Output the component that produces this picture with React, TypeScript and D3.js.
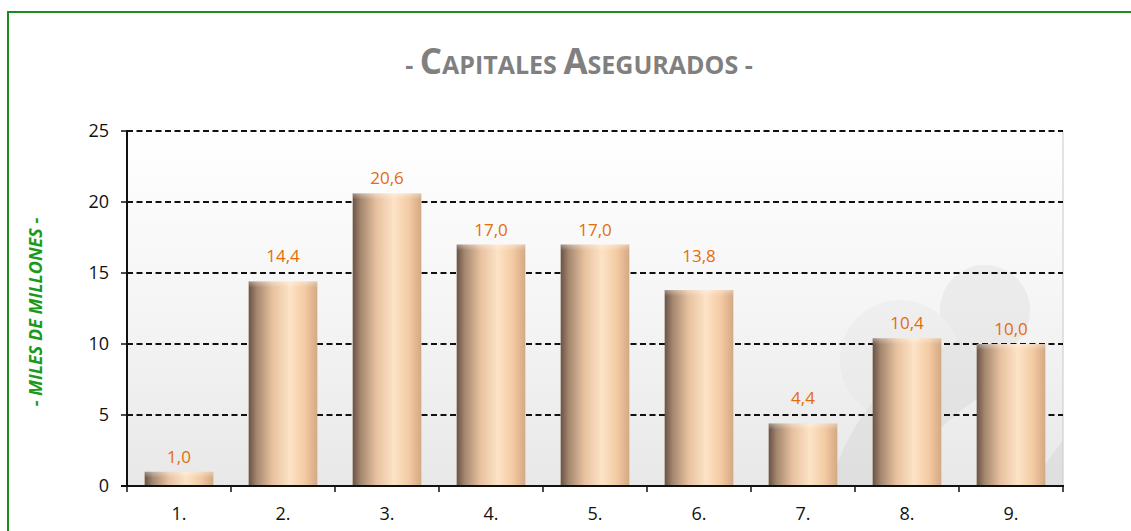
import React from "react";
import * as d3 from "d3";

const categories = ["1.", "2.", "3.", "4.", "5.", "6.", "7.", "8.", "9."];
const values = [1.0, 14.4, 20.6, 17.0, 17.0, 13.8, 4.4, 10.4, 10.0];
const yTicks = [0, 5, 10, 15, 20, 25];
const titleParts = [
  { t: "- ", big: false },
  { t: "C", big: true },
  { t: "APITALES ", big: false },
  { t: "A", big: true },
  { t: "SEGURADOS", big: false },
  { t: " -", big: false },
];
const yLabel = "- MILES DE MILLONES -";

const W = 1131;
const H = 531;
const left = 127;
const right = 1063;
const top = 131;
const bottom = 486;

export default function App() {
  const x = d3.scaleBand<string>().domain(categories).range([left, right]).paddingInner(0.34).paddingOuter(0.17);
  const xb = d3.scaleBand<string>().domain(categories).range([left, right]);
  const y = d3.scaleLinear().domain([0, 25]).range([bottom, top]);
  const font = "'Open Sans', 'Noto Sans', sans-serif";
  const fmt = (v: number) => v.toFixed(1).replace(".", ",");
  const gridYs = yTicks.filter((t) => t > 0).map((t) => y(t));
  const labelY = (v: number) => {
    let c = y(v) - 15;
    for (const g of gridYs) {
      if (Math.abs(c - g) < 10) c = g - 17;
    }
    return c;
  };

  return (
    <svg width={W} height={H} style={{ position: "absolute", left: 0, top: 0, background: "#fff" }}>
      <defs>
        <linearGradient id="bg" x1="0" y1="0" x2="0" y2="1">
          <stop offset="0" stopColor="#ffffff" />
          <stop offset="0.45" stopColor="#f6f6f6" />
          <stop offset="1" stopColor="#e8e8e8" />
        </linearGradient>
        <linearGradient id="bar" x1="0" y1="0" x2="1" y2="0">
          <stop offset="0" stopColor="#6a5244" />
          <stop offset="0.12" stopColor="#a58870" />
          <stop offset="0.35" stopColor="#e8c2a0" />
          <stop offset="0.6" stopColor="#fde3c6" />
          <stop offset="0.82" stopColor="#f3caa2" />
          <stop offset="1" stopColor="#d2a984" />
        </linearGradient>
        <linearGradient id="barTop" x1="0" y1="0" x2="0" y2="1">
          <stop offset="0" stopColor="#ffffff" stopOpacity="0.35" />
          <stop offset="1" stopColor="#ffffff" stopOpacity="0" />
        </linearGradient>
        <clipPath id="plotClip">
          <rect x={left} y={top - 2} width={right - left} height={bottom - top + 2} />
        </clipPath>
      </defs>

      {/* outer green frame */}
      <rect x={8} y={12} width={W + 20} height={H + 20} fill="none" stroke="#1a8c1a" strokeWidth={2} />

      {/* title */}
      <text x={579} y={74} textAnchor="middle" fontFamily={font} fontWeight="bold" fill="#808080">
        {titleParts.map((p, i) => (
          <tspan key={i} fontSize={p.big ? 35 : 25}>{p.t}</tspan>
        ))}
      </text>

      {/* plot background */}
      <rect x={left} y={top} width={right - left} height={bottom - top} fill="url(#bg)" />
      <g clipPath="url(#plotClip)" opacity={0.35}>
        <circle cx={985} cy={310} r={45} fill="#d9d9d9" />
        <circle cx={900} cy={360} r={60} fill="#e4e4e4" />
        <path d={`M 830 ${bottom} Q 860 380 960 340 L 1010 380 Q 930 420 900 ${bottom} Z`} fill="#cfcfcf" />
        <path d={`M 1030 ${bottom} L 1063 440 L 1063 ${bottom} Z`} fill="#cfcfcf" />
      </g>
      <line x1={right} x2={right} y1={top} y2={bottom} stroke="#c8c8c8" strokeWidth={1} />

      {/* gridlines */}
      {yTicks.filter((t) => t > 0).map((t) => (
        <line key={t} x1={left} x2={right} y1={y(t)} y2={y(t)} stroke="#111" strokeWidth={2} strokeDasharray="6 3.5" />
      ))}

      {/* bars */}
      {categories.map((c, i) => {
        const bx = x(c)!;
        const bw = x.bandwidth();
        const by = y(values[i]);
        return (
          <g key={c}>
            <rect x={bx} y={by} width={bw} height={bottom - by} fill="url(#bar)" />
            <rect x={bx} y={by} width={bw} height={Math.min(6, bottom - by)} fill="url(#barTop)" />
            <text x={bx + bw / 2} y={labelY(values[i])} dy="0.35em" textAnchor="middle" fontFamily={font} fontSize={17} fill="#e46c0a">
              {fmt(values[i])}
            </text>
          </g>
        );
      })}

      {/* axes */}
      <line x1={left} x2={left} y1={top - 1} y2={bottom + 1} stroke="#111" strokeWidth={2} />
      <line x1={left - 6} x2={right + 1} y1={bottom} y2={bottom} stroke="#111" strokeWidth={2} />
      {yTicks.map((t) => (
        <g key={t}>
          <line x1={left - 6} x2={left} y1={y(t)} y2={y(t)} stroke="#111" strokeWidth={1.5} />
          <text x={left - 18} y={y(t)} dy="0.35em" textAnchor="end" fontFamily={font} fontSize={18} fill="#111">
            {t}
          </text>
        </g>
      ))}
      {[...categories.map((c) => xb(c)!), right].map((px, i) => (
        <line key={i} x1={px} x2={px} y1={bottom} y2={bottom + 6} stroke="#111" strokeWidth={1.5} />
      ))}
      {categories.map((c) => (
        <text key={c} x={xb(c)! + xb.bandwidth() / 2} y={514} dy="0.35em" textAnchor="middle" fontFamily={font} fontSize={18} fill="#111">
          {c}
        </text>
      ))}

      {/* y label */}
      <text
        transform={`translate(42, ${312}) rotate(-90)`}
        textAnchor="middle"
        fontFamily={font}
        fontSize={18}
        fontWeight="bold"
        fontStyle="italic"
        fill="#1a9a1a"
      >
        {yLabel}
      </text>
    </svg>
  );
}
